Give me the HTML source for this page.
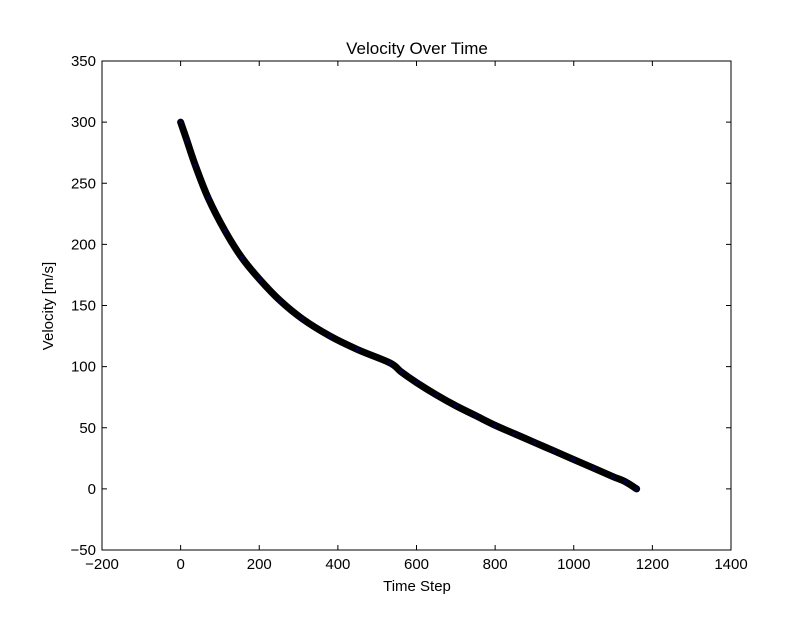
<!DOCTYPE html>
<html><head><meta charset="utf-8"><style>
body{margin:0;background:#fff;}
svg text{font-family:"Liberation Sans","DejaVu Sans",sans-serif;}
</style></head><body>
<svg id="chart" width="812" height="612" viewBox="0 0 812 612">
<rect width="812" height="612" fill="#fff"/>
<text x="417" y="54" font-size="17" text-anchor="middle">Velocity Over Time</text>
<text x="417" y="591" font-size="15" text-anchor="middle">Time Step</text>
<text x="53" y="306" font-size="15" text-anchor="middle" transform="rotate(-90 53 306)">Velocity [m/s]</text>
<g id="ticks"></g>
<g id="series"></g>
<rect x="102" y="61" width="629" height="489" fill="none" stroke="#000" stroke-width="1"/>
</svg>
<script>
const xTicks=[-200,0,200,400,600,800,1000,1200,1400];
const yTicks=[-50,0,50,100,150,200,250,300,350];
const timeSteps=[0,16,37,70,113,156,202,253,310,380,450,533,560,600,650,700,750,800,850,900,950,1000,1050,1100,1130,1160];
const velocities=[300,285,265,238,211,189,171,154,139,125,114,103,96,87,77,68,60,52,45,38,31,24,17,10,6,0];
const X0=102,X1=731,Y0=61,Y1=550;
const sx=v=>X0+(v+200)/1600*(X1-X0);
const sy=v=>Y1-(v+50)/400*(Y1-Y0);
const NS="http://www.w3.org/2000/svg";
const tg=document.getElementById('ticks');
function mk(t,a,p){const e=document.createElementNS(NS,t);for(const k in a)e.setAttribute(k,a[k]);(p||tg).appendChild(e);return e;}
xTicks.forEach(v=>{const x=sx(v);
 const l1=mk('line',{x1:x,x2:x,y1:Y1,y2:Y1-5,stroke:'#000'});
 
 
 mk('line',{x1:x,x2:x,y1:Y0,y2:Y0+5,stroke:'#000'});
 const t=mk('text',{x:x,y:Y1+19,'font-size':15,'text-anchor':'middle'});t.textContent=v<0?'\u2212'+(-v):v;
 
 
});
yTicks.forEach(v=>{const y=sy(v);
 const l1=mk('line',{x1:X0,x2:X0+5,y1:y,y2:y,stroke:'#000'});
 
 
 mk('line',{x1:X1,x2:X1-5,y1:y,y2:y,stroke:'#000'});
 const t=mk('text',{x:X0-6,y:y+5,'font-size':15,'text-anchor':'end'});t.textContent=v<0?'\u2212'+(-v):v;
 
 
});
const sg=document.getElementById('series');
const P=timeSteps.map((t,i)=>[sx(t),sy(velocities[i])]);
let d='M'+P[0][0]+','+P[0][1];
for(let i=0;i<P.length-1;i++){
 const p0=P[Math.max(0,i-1)],p1=P[i],p2=P[i+1],p3=P[Math.min(P.length-1,i+2)];
 const c1=[p1[0]+(p2[0]-p0[0])/6,p1[1]+(p2[1]-p0[1])/6];
 const c2=[p2[0]-(p3[0]-p1[0])/6,p2[1]-(p3[1]-p1[1])/6];
 d+=' C'+c1[0]+','+c1[1]+' '+c2[0]+','+c2[1]+' '+p2[0]+','+p2[1];
}
const pl=mk('path',{d:d,fill:'none',stroke:'#000','stroke-width':7,'stroke-linejoin':'round','stroke-linecap':'round'},sg);


timeSteps.forEach((t,i)=>{
 const c=mk('circle',{cx:sx(t),cy:sy(velocities[i]),r:2.5,fill:'#000040',stroke:'#000','stroke-width':1},sg);
 
 
});
</script>
</body></html>
